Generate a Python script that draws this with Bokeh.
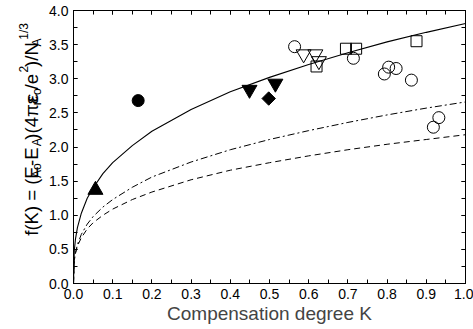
from math import pi
from bokeh.plotting import figure
from bokeh.layouts import row
from bokeh.models import LinearAxis, SingleIntervalTicker, Label, NumeralTickFormatter
from bokeh.embed import file_html
from bokeh.resources import INLINE

# ---- theoretical curves ----
curve_k = [0, 0.002, 0.005, 0.01, 0.02, 0.035, 0.05, 0.075, 0.1, 0.15, 0.2,
           0.3, 0.4, 0.5, 0.6, 0.7, 0.8, 0.9, 1.0]
curve_solid = [0, 0.48, 0.65, 0.82, 1.03, 1.25, 1.40, 1.61, 1.77, 2.02, 2.23,
               2.55, 2.81, 3.02, 3.21, 3.38, 3.54, 3.68, 3.81]
curve_dashdot = [0, 0.34, 0.45, 0.57, 0.72, 0.87, 0.98, 1.12, 1.23, 1.41, 1.56,
                 1.78, 1.96, 2.11, 2.24, 2.36, 2.47, 2.57, 2.66]
curve_dashed = [0, 0.34, 0.44, 0.55, 0.67, 0.80, 0.89, 1.00, 1.09, 1.23, 1.34,
                1.52, 1.66, 1.77, 1.87, 1.96, 2.04, 2.11, 2.18]

# ---- experimental points ----
filled_circle_k = [0.165]
filled_circle_f = [2.68]
filled_tri_up_k = [0.056]
filled_tri_up_f = [1.37]
filled_tri_down_k = [0.449, 0.515]
filled_tri_down_f = [2.84, 2.93]
filled_diamond_k = [0.498]
filled_diamond_f = [2.71]
open_circle_k = [0.564, 0.714, 0.793, 0.804, 0.823, 0.862, 0.932, 0.918]
open_circle_f = [3.47, 3.30, 3.07, 3.17, 3.15, 2.98, 2.43, 2.29]
open_square_k = [0.695, 0.721, 0.875, 0.620]
open_square_f = [3.44, 3.44, 3.55, 3.18]
open_tri_down_k = [0.587, 0.617, 0.626]
open_tri_down_f = [3.36, 3.36, 3.26]

x_title = "Compensation degree K"
FONT = "Liberation Sans"

W_TOTAL, H_TOTAL = 473, 329
TITLE_W = 46

p = figure(width=W_TOTAL - TITLE_W, height=H_TOTAL, x_range=(0, 1), y_range=(0, 4),
           output_backend="svg", toolbar_location=None,
           min_border_left=73 - TITLE_W, min_border_right=8, min_border_top=10,
           min_border_bottom=46, background_fill_color="white",
           border_fill_color="white")
p.grid.visible = False
p.outline_line_color = "black"
p.outline_line_width = 1

xt = SingleIntervalTicker(interval=0.1, num_minor_ticks=2)
yt = SingleIntervalTicker(interval=0.5, num_minor_ticks=2)


def style_axis(ax, labels=True):
    ax.axis_line_color = "black"
    ax.major_tick_in = 4
    ax.major_tick_out = 0
    ax.minor_tick_in = 4
    ax.minor_tick_out = 0
    ax.major_tick_line_color = "black"
    ax.minor_tick_line_color = "black"
    ax.major_label_text_font = FONT
    ax.major_label_text_font_size = "14px"
    ax.major_label_text_color = "black" if labels else None
    ax.formatter = NumeralTickFormatter(format="0.0")


p.xaxis.ticker = xt
p.yaxis.ticker = yt
style_axis(p.xaxis[0])
style_axis(p.yaxis[0])
p.xaxis.major_label_standoff = 5
p.yaxis.major_label_standoff = 5
p.xaxis.axis_label = x_title
p.xaxis.axis_label_text_font = FONT
p.xaxis.axis_label_text_font_size = "19px"
p.xaxis.axis_label_text_font_style = "normal"
p.xaxis.axis_label_standoff = 1

top = LinearAxis(ticker=xt)
style_axis(top, labels=False)
top.major_label_text_font_size = "0px"
top.major_label_standoff = 0
right = LinearAxis(ticker=yt)
style_axis(right, labels=False)
right.major_label_text_font_size = "0px"
right.major_label_standoff = 0
p.add_layout(top, "above")
p.add_layout(right, "right")

# curves
p.line(curve_k, curve_solid, line_color="black", line_width=1.1)
p.line(curve_k, curve_dashdot, line_color="black", line_width=1, line_dash="7 3 2 3")
p.line(curve_k, curve_dashed, line_color="black", line_width=1, line_dash="6 4")

# points
p.scatter(filled_circle_k, filled_circle_f, marker="circle", size=12,
          fill_color="black", line_color="black")
p.scatter(filled_tri_up_k, filled_tri_up_f, marker="triangle", size=15,
          fill_color="black", line_color="black")
p.scatter(filled_tri_down_k, filled_tri_down_f, marker="inverted_triangle", size=15,
          fill_color="black", line_color="black")
p.scatter(filled_diamond_k, filled_diamond_f, marker="square", size=9.5, angle=pi / 4,
          fill_color="black", line_color="black")
p.scatter(open_circle_k, open_circle_f, marker="circle", size=12,
          fill_color=None, line_color="black", line_width=1)
p.scatter(open_square_k, open_square_f, marker="square", size=11,
          fill_color=None, line_color="black", line_width=1)
p.scatter(open_tri_down_k, open_tri_down_f, marker="inverted_triangle", size=15,
          fill_color=None, line_color="black", line_width=1)

# ---- rotated y-axis title with sub/superscripts, in a narrow side panel ----
t = figure(width=TITLE_W, height=H_TOTAL, x_range=(0, TITLE_W), y_range=(0, H_TOTAL),
           output_backend="svg", toolbar_location=None, x_axis_type=None,
           y_axis_type=None, min_border=0, outline_line_color=None,
           background_fill_color="white", border_fill_color="white")
t.grid.visible = False

AW = {'f': 278, '(': 333, 'K': 667, ')': 333, ' ': 278, '=': 584, 'E': 667,
      'A': 667, 'o': 556, '-': 333, '4': 556, 'π': 570, 'ε': 450, 'r': 333,
      '/': 278, 'e': 556, '2': 556, 'N': 722, '1': 556, '3': 556}
segments = [("f(K) = (E", "n"), ("Ao", "b"), (" -E", "n"), ("A", "b"),
            (")(4πε", "n"), ("r", "b"), ("ε", "n"), ("o", "b"), (" /e", "n"),
            ("2", "p"), (")/N", "n"), ("A", "b"), ("1/3", "p")]
MAIN, SMALL = 18.5, 12.0
sizes = {"n": MAIN, "b": SMALL, "p": SMALL}
base_px = {"n": 31.0, "b": 36.0, "p": 23.0}


def tw(s, size):
    return sum(AW[c] for c in s) * size / 1000.0


total = sum(tw(s, sizes[k]) for s, k in segments)
center_py = 145.0
py = center_py + total / 2.0
for s, k in segments:
    t.add_layout(Label(x=base_px[k], y=H_TOTAL - py,
                       x_units="data", y_units="data",
                       text=s, angle=pi / 2, text_align="left",
                       text_baseline="alphabetic", text_font=FONT,
                       text_font_size=f"{sizes[k]}px", text_color="black"))
    py -= tw(s, sizes[k])

layout = row(t, p, spacing=0)
open("out.html", "w").write(file_html(layout, INLINE))
